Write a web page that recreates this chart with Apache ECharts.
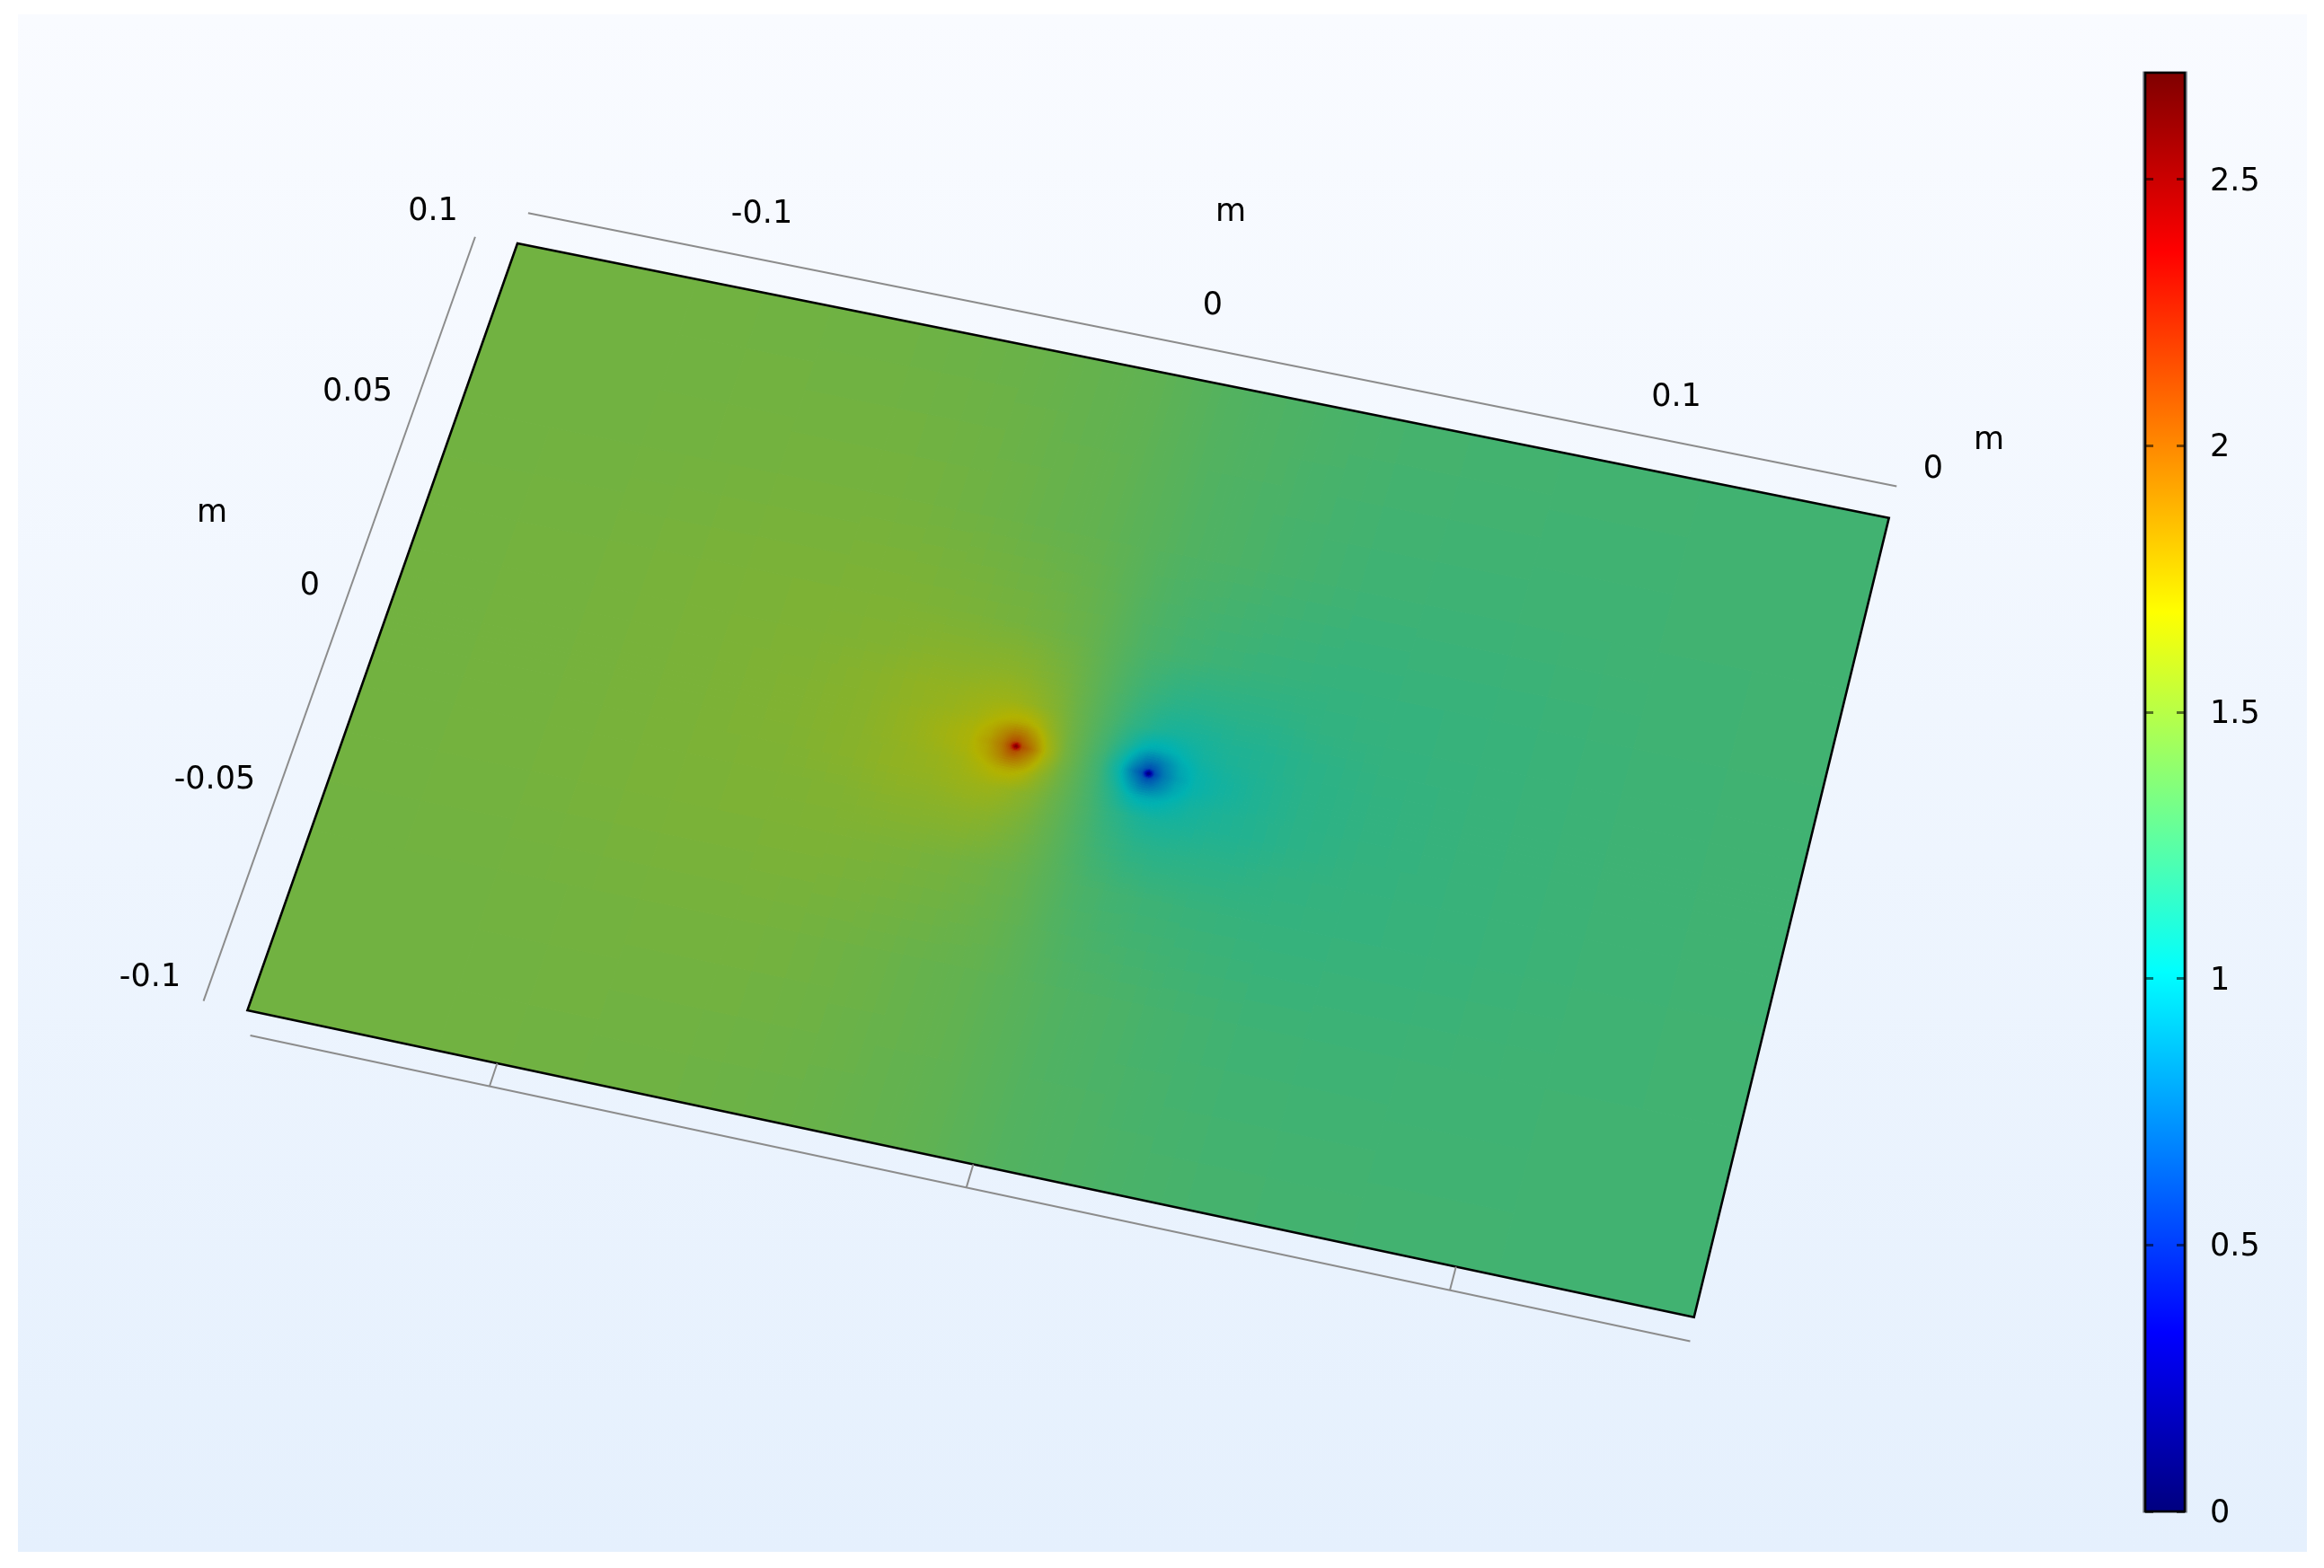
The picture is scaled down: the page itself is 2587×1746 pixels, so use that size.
<!DOCTYPE html>
<html>
<head>
<meta charset="utf-8">
<title>Potential surface</title>
<style>
html,body{margin:0;padding:0;background:#fff;}
#chart{width:2587px;height:1746px;filter:blur(0.6px);}
</style>
<script src="https://cdn.jsdelivr.net/npm/echarts@6/dist/echarts.min.js"></script>
</head>
<body>
<div id="chart"></div>
<script>
// ---------- data ----------
const xNodes = [-0.15,-0.11,-0.08,-0.06,-0.046,-0.036,-0.029,-0.024,-0.02,-0.017,-0.0154,-0.0142,-0.013,-0.011,-0.008,-0.004,0,
                0.004,0.008,0.011,0.0128,0.014,0.0152,0.017,0.02,0.024,0.029,0.036,0.046,0.06,0.08,0.11,0.15];
const yNodes = [-0.1,-0.055,-0.03,-0.018,-0.011,-0.006,-0.003,-0.0012,0,0.0012,0.003,0.006,0.011,0.018,0.03,0.055,0.1];
const rowY0    = [1.44,1.455,1.48,1.50,1.53,1.575,1.62,1.66,1.77,1.92,2.10,2.70,2.08,1.93,1.66,1.46,1.35,
                  1.24,1.04,0.77,0.62,0.00,0.60,0.78,0.93,1.04,1.08,1.125,1.17,1.20,1.22,1.245,1.26];
const rowY1p2  = [1.44,1.455,1.48,1.50,1.53,1.575,1.62,1.66,1.75,1.90,2.03,2.08,2.00,1.88,1.65,1.46,1.35,
                  1.24,1.05,0.82,0.70,0.62,0.67,0.80,0.95,1.04,1.08,1.125,1.17,1.20,1.22,1.245,1.26];
const rowY3    = [1.44,1.455,1.48,1.50,1.53,1.575,1.61,1.65,1.73,1.85,1.92,1.93,1.90,1.80,1.62,1.45,1.35,
                  1.25,1.08,0.90,0.80,0.77,0.78,0.85,0.97,1.05,1.09,1.125,1.17,1.20,1.22,1.245,1.26];
const rowY6    = [1.44,1.455,1.48,1.50,1.53,1.565,1.59,1.62,1.67,1.71,1.72,1.72,1.71,1.67,1.56,1.44,1.35,
                  1.26,1.14,1.03,0.99,0.98,0.98,0.99,1.03,1.08,1.11,1.135,1.17,1.20,1.22,1.245,1.26];
const rowY11   = [1.44,1.455,1.48,1.495,1.525,1.56,1.57,1.59,1.60,1.60,1.59,1.58,1.57,1.54,1.50,1.42,1.35,
                  1.28,1.20,1.16,1.13,1.12,1.11,1.10,1.10,1.11,1.13,1.14,1.175,1.205,1.22,1.245,1.26];
const rowY18   = [1.44,1.455,1.48,1.49,1.505,1.53,1.53,1.535,1.54,1.53,1.525,1.515,1.505,1.49,1.46,1.405,1.35,
                  1.295,1.24,1.21,1.195,1.185,1.175,1.17,1.16,1.165,1.17,1.17,1.195,1.21,1.22,1.245,1.26];
const rowY30   = [1.44,1.455,1.477,1.485,1.488,1.48,1.473,1.463,1.458,1.445,1.443,1.44,1.435,1.423,1.413,1.384,1.35,
                  1.316,1.287,1.277,1.265,1.26,1.257,1.255,1.242,1.237,1.227,1.22,1.212,1.215,1.223,1.245,1.26];
const rowY55   = [1.44,1.445,1.455,1.459,1.449,1.435,1.423,1.411,1.403,1.398,1.395,1.394,1.391,1.388,1.38,1.365,1.35,
                  1.335,1.32,1.312,1.309,1.306,1.305,1.302,1.297,1.289,1.277,1.265,1.251,1.241,1.245,1.255,1.26];
const rowY100  = [1.44,1.44,1.432,1.424,1.416,1.408,1.40,1.394,1.388,1.384,1.382,1.381,1.379,1.377,1.371,1.36,1.35,
                  1.34,1.329,1.323,1.321,1.319,1.318,1.316,1.312,1.306,1.30,1.292,1.284,1.276,1.268,1.26,1.26];
const fieldRows = [rowY100,rowY55,rowY30,rowY18,rowY11,rowY6,rowY3,rowY1p2,rowY0,rowY1p2,rowY3,rowY6,rowY11,rowY18,rowY30,rowY55,rowY100];
const colorbarTicks = [0,0.5,1,1.5,2,2.5];
const colorbarMax = 2.7;
const xTickMarks = [-0.0973,0.0021,0.1015];

// ---------- styling and placement (page pixels) ----------
const planeCorners = [[275.4,1125],[1885.7,1466.7],[2102.7,576.7],[576,271]]; // (xmin,ymin) (xmax,ymin) (xmax,ymax) (xmin,ymax)
const jetStops = [[0,[0,0,127]],[0.125,[0,0,255]],[0.375,[0,255,255]],[0.625,[255,255,0]],[0.875,[255,0,0]],[1,[127,0,0]]];
const surfaceShade = 0.698;
const FONT = '35px "DejaVu Sans"';
const textLabels = [
  ['0.1',482,236],['0.05',398,437],['0',345,653],['-0.05',239,869],['-0.1',167,1089],['m',236,572],
  ['-0.1',848,239],['0',1350,341],['0.1',1866,443],['0',2152,523],['m',1370,237],['m',2214,491]
];

// projective map of the plane
const H = (function(){
  const [[x0,y0],[x1,y1],[x2,y2],[x3,y3]] = planeCorners;
  const dx1=x1-x2,dx2=x3-x2,sx=x0-x1+x2-x3,dy1=y1-y2,dy2=y3-y2,sy=y0-y1+y2-y3;
  const den=dx1*dy2-dx2*dy1;
  const g=(sx*dy2-dx2*sy)/den,h=(dx1*sy-sx*dy1)/den;
  return {a:x1-x0+g*x1,b:x3-x0+h*x3,c:x0,d:y1-y0+g*y1,e:y3-y0+h*y3,f:y0,g,h};
})();
function project(x,y){
  const u=(x+0.15)/0.3,v=(y+0.1)/0.2,w=H.g*u+H.h*v+1;
  return [(H.a*u+H.b*v+H.c)/w,(H.d*u+H.e*v+H.f)/w];
}
function jet(t){
  t=Math.max(0,Math.min(1,t));
  for(let i=1;i<jetStops.length;i++){
    if(t<=jetStops[i][0]){
      const [a,ca]=jetStops[i-1],[b,cb]=jetStops[i],k=(t-a)/(b-a);
      return [0,1,2].map(j=>ca[j]+(cb[j]-ca[j])*k);
    }
  }
  return jetStops[jetStops.length-1][1];
}
function surfaceColor(v){
  const c=jet(v/colorbarMax);
  return 'rgb('+c.map(q=>Math.round(q*surfaceShade)).join(',')+')';
}

// cells of the table
const cells=[];
for(let j=0;j<yNodes.length-1;j++){
  for(let i=0;i<xNodes.length-1;i++){
    cells.push([xNodes[i],yNodes[j],xNodes[i+1],yNodes[j+1],
      fieldRows[j][i],fieldRows[j][i+1],fieldRows[j+1][i],fieldRows[j+1][i+1]]);
  }
}

function renderCell(params,api){
  const x0=api.value(0),y0=api.value(1),x1=api.value(2),y1=api.value(3);
  const a=api.value(4),b=api.value(5),c=api.value(6),d=api.value(7);
  const p00=project(x0,y0),p11=project(x1,y1);
  const size=Math.max(Math.abs(p11[0]-p00[0]),Math.abs(p11[1]-p00[1]));
  const cap=Math.max(1,Math.ceil(size/2.5));
  const nx=Math.min(cap,Math.max(1,Math.ceil(Math.max(Math.abs(b-a),Math.abs(d-c))/0.01)));
  const ny=Math.min(cap,Math.max(1,Math.ceil(Math.max(Math.abs(c-a),Math.abs(d-b))/0.01)));
  const children=[];
  for(let j=0;j<ny;j++){
    for(let i=0;i<nx;i++){
      const s0=i/nx,s1=(i+1)/nx,t0=j/ny,t1=(j+1)/ny,sm=(s0+s1)/2,tm=(t0+t1)/2;
      const val=(a*(1-sm)+b*sm)*(1-tm)+(c*(1-sm)+d*sm)*tm;
      const X0=x0+(x1-x0)*s0,X1=x0+(x1-x0)*s1,Y0=y0+(y1-y0)*t0,Y1=y0+(y1-y0)*t1;
      const pts=[[X0,Y0],[X1,Y0],[X1,Y1],[X0,Y1]].map(p=>api.coord(project(p[0],p[1])));
      const col=surfaceColor(val);
      children.push({type:'polygon',shape:{points:pts},style:{fill:col,stroke:col,lineWidth:1}});
    }
  }
  return {type:'group',children};
}

// frame lines in plane coordinates
const frameLines=[
  [-0.15,0.1084,0.15,0.1084],
  [-0.1593,-0.1,-0.1593,0.0995],
  [-0.1477,-0.1056,0.1504,-0.1056]
].concat(xTickMarks.map(x=>[x,-0.1,x,-0.1056]));

const option={
  backgroundColor:'#ffffff',
  animation:false,
  graphic:[{type:'rect',z:-10,silent:true,shape:{x:20,y:16,width:2548,height:1712},
    style:{fill:new echarts.graphic.LinearGradient(0,0,0,1,[{offset:0,color:'#f9fbff'},{offset:1,color:'#e5f0fd'}])}}],
  grid:[
    {left:0,top:0,width:2587,height:1746,show:false},
    {left:2388,top:81,width:44,height:1602,show:false}
  ],
  xAxis:[
    {gridIndex:0,type:'value',min:0,max:2587,show:false},
    {gridIndex:1,type:'value',min:0,max:1,show:false}
  ],
  yAxis:[
    {gridIndex:0,type:'value',min:0,max:1746,inverse:true,show:false},
    {gridIndex:1,type:'value',min:0,max:colorbarMax,position:'left',z:6,splitLine:{show:false},axisLine:{show:false},axisLabel:{show:false},
      axisTick:{show:true,inside:true,length:9,customValues:colorbarTicks,lineStyle:{color:'rgba(0,0,0,0.55)',width:3}}},
    {gridIndex:1,type:'value',min:0,max:colorbarMax,position:'right',z:6,splitLine:{show:false},axisLine:{show:false},
      axisTick:{show:true,inside:true,length:9,customValues:colorbarTicks,lineStyle:{color:'rgba(0,0,0,0.55)',width:3}},
      axisLabel:{show:true,margin:28,customValues:colorbarTicks,color:'#000',fontFamily:'DejaVu Sans',fontSize:35,
        formatter:v=>'{t|'+v+'}',
        rich:{t:{color:'#000',fontFamily:'DejaVu Sans',fontSize:35,padding:[6,0,0,0]}}}}
  ],
  series:[
    {type:'custom',name:'surface',xAxisIndex:0,yAxisIndex:0,coordinateSystem:'cartesian2d',silent:true,clip:false,
      progressive:0,animation:false,z:2,dimensions:['x0','y0','x1','y1','a','b','c','d'],encode:{x:[],y:[]},
      data:cells,renderItem:renderCell},
    {type:'custom',name:'outline',xAxisIndex:0,yAxisIndex:0,coordinateSystem:'cartesian2d',silent:true,clip:false,
      animation:false,z:3,encode:{x:[],y:[]},data:[[0]],
      renderItem:(p,api)=>({type:'polygon',shape:{points:[[-0.15,-0.1],[0.15,-0.1],[0.15,0.1],[-0.15,0.1]].map(q=>api.coord(project(q[0],q[1])))},
        style:{fill:'none',stroke:'#000',lineWidth:2.6}})},
    {type:'custom',name:'frame',xAxisIndex:0,yAxisIndex:0,coordinateSystem:'cartesian2d',silent:true,clip:false,
      animation:false,z:3,encode:{x:[],y:[]},data:frameLines,
      renderItem:(p,api)=>{
        const a=api.coord(project(api.value(0),api.value(1))),b=api.coord(project(api.value(2),api.value(3)));
        return {type:'line',shape:{x1:a[0],y1:a[1],x2:b[0],y2:b[1]},style:{stroke:'#8c8c8c',lineWidth:2}};
      }},
    {type:'custom',name:'labels',xAxisIndex:0,yAxisIndex:0,coordinateSystem:'cartesian2d',silent:true,clip:false,
      animation:false,z:4,encode:{x:[],y:[]},data:textLabels.map((t,i)=>[i]),
      renderItem:(p,api)=>{
        const t=textLabels[p.dataIndex],c=api.coord([t[1],t[2]]);
        return {type:'text',style:{text:t[0],x:c[0],y:c[1],font:FONT,fill:'#000',align:'center',verticalAlign:'middle'}};
      }},
    {type:'custom',name:'colorbar',xAxisIndex:1,yAxisIndex:1,coordinateSystem:'cartesian2d',silent:true,clip:false,
      animation:false,z:2,encode:{x:[],y:[]},data:[[0,colorbarMax]],
      renderItem:(p,api)=>{
        const a=api.coord([0,api.value(1)]),b=api.coord([1,api.value(0)]);
        const shape={x:a[0],y:a[1],width:b[0]-a[0],height:b[1]-a[1]};
        const g=new echarts.graphic.LinearGradient(0,1,0,0,jetStops.map(s=>({offset:s[0],color:'rgb('+s[1].join(',')+')'})));
        return {type:'group',children:[
          {type:'rect',shape:{x:shape.x-1.5,y:shape.y,width:shape.width+3,height:shape.height},style:{fill:'none',stroke:'#9096a0',lineWidth:3}},
          {type:'rect',shape,style:{fill:g,stroke:'#000',lineWidth:2.6}}
        ]};
      }}
  ]
};
const chart=echarts.init(document.getElementById('chart'),null,{renderer:'canvas',width:2587,height:1746});
chart.setOption(option);
</script>
</body>
</html>
